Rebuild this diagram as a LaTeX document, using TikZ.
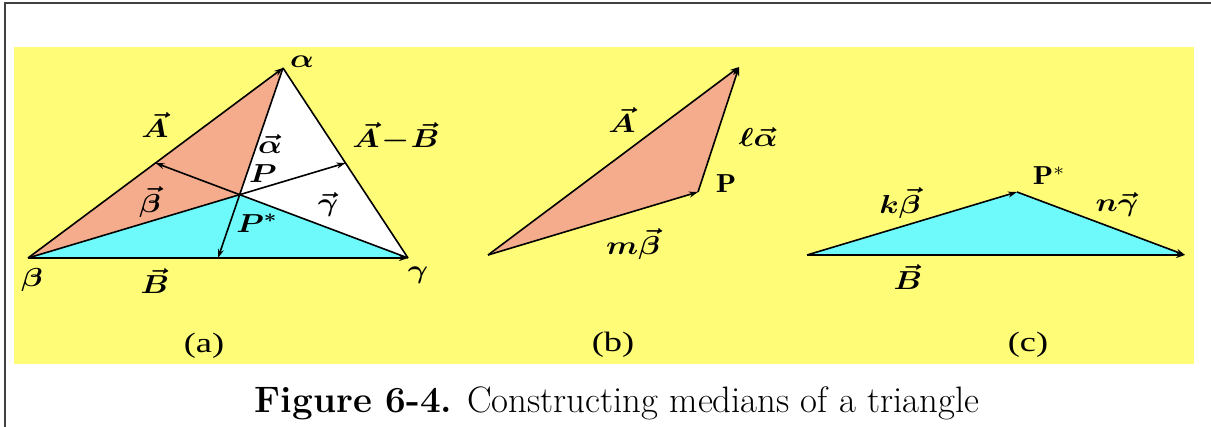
\RequirePackage{fix-cm}
\documentclass[tikz,border=0pt]{standalone}
\usepackage{fontspec}
\newfontfamily\capfont{Liberation Serif}
\usepackage{amsmath,bm}
\usetikzlibrary{arrows.meta}
\definecolor{bgyellow}{RGB}{255,252,120}
\definecolor{salmonfill}{RGB}{245,172,140}
\definecolor{cyanfill}{RGB}{110,250,250}
\tikzset{
  edge/.style={line width=0.8pt, line join=round},
  vec/.style={-{Stealth[length=4.5pt,width=3pt]}},
  lbl/.style={font=\fontsize{13}{15}\selectfont, xscale=1.2, inner sep=0pt},
  smallP/.style={font=\fontsize{13}{15}\selectfont, xscale=1.15, inner sep=0pt},
  sub/.style={font=\capfont\fontsize{14}{16}\selectfont, xscale=1.3, inner sep=0pt},
}
\begin{document}
\begin{tikzpicture}[x=0.5pt,y=-0.5pt]
\useasboundingbox (0,0) rectangle (1211,427);
\fill[bgyellow] (14,47) rectangle (1194,364);
\draw[line width=1pt, black!75] (5,427) -- (5,3) -- (1211,3);

% ---------- panel (a)
\coordinate (al) at (283,68);
\coordinate (be) at (28,258);
\coordinate (ga) at (408,258);
\coordinate (P) at (239.7,194.7);
\coordinate (Mab) at (155.5,163);
\coordinate (Mag) at (345.5,163);
\coordinate (Mbg) at (218,258);
\fill[salmonfill] (be) -- (al) -- (P) -- cycle;
\fill[white] (al) -- (ga) -- (P) -- cycle;
\fill[cyanfill] (be) -- (P) -- (ga) -- cycle;
\draw[edge,vec] (be) -- (al);
\draw[edge,vec] (be) -- (ga);
\draw[edge] (ga) -- (al);
\draw[edge,vec] (al) -- (Mbg);
\draw[edge,vec] (ga) -- (Mab);
\draw[edge,vec] (be) -- (Mag);
\node[lbl] (tal) at (302,62) {$\bm{\alpha}$};
\node[lbl] (tA) at (155,125) {$\bm{\vec{A}}$};
\node[lbl] (tval) at (270,144) {$\bm{\vec{\alpha}}$};
\node[lbl] (tAB) at (396,137) {$\bm{\vec{A}\!-\!\vec{B}}$};
\node[lbl] (tP) at (263,174) {$\bm{P}$};
\node[lbl] (tvbe) at (150,202) {$\bm{\vec{\beta}}$};
\node[lbl] (tvga) at (328,205) {$\bm{\vec{\gamma}}$};
\node[lbl] (tPs) at (257,223) {$\bm{P^{*}}$};
\node[lbl] (tbe) at (32,280) {$\bm{\beta}$};
\node[lbl] (tB) at (155,281) {$\bm{\vec{B}}$};
\node[lbl] (tga) at (418,275) {$\bm{\gamma}$};
\node[sub] (ca) at (204,346) {(a)};

% ---------- panel (b)
\coordinate (bL) at (488,255);
\coordinate (bT) at (739,67);
\coordinate (bP) at (698,192);
\fill[salmonfill] (bL) -- (bT) -- (bP) -- cycle;
\draw[edge,vec] (bL) -- (bT);
\draw[edge,vec] (bL) -- (bP);
\draw[edge,vec] (bP) -- (bT);
\node[lbl] (tbA) at (622,120) {$\bm{\vec{A}}$};
\node[lbl] (tbla) at (758,137) {$\bm{\ell\vec{\alpha}}$};
\node[smallP] (tbP) at (726,184) {$\mathbf{P}$};
\node[lbl] (tbmb) at (633,244) {$\bm{m\vec{\beta}}$};
\node[sub] (cb) at (613,345) {(b)};

% ---------- panel (c)
\coordinate (cL) at (807,255);
\coordinate (cP) at (1017,192);
\coordinate (cR) at (1185,255);
\fill[cyanfill] (cL) -- (cP) -- (cR) -- cycle;
\draw[edge,vec] (cL) -- (cP);
\draw[edge,vec] (cP) -- (cR);
\draw[edge,vec] (cL) -- (cR);
\node[lbl] (tckb) at (900,203) {$\bm{k\vec{\beta}}$};
\node[smallP] (tcP) at (1049,176) {$\mathbf{P}^{*}$};
\node[lbl] (tcng) at (1117,205) {$\bm{n\vec{\gamma}}$};
\node[lbl] (tcB) at (908,277) {$\bm{\vec{B}}$};
\node[sub] (cc) at (1028,345) {(c)};

% ---------- caption
\node[font=\fontsize{18.4}{22}\selectfont, anchor=base, inner sep=0pt] (title) at (617,413)
  {\textbf{Figure 6-4.} Constructing medians of a triangle};
\end{tikzpicture}
\end{document}
